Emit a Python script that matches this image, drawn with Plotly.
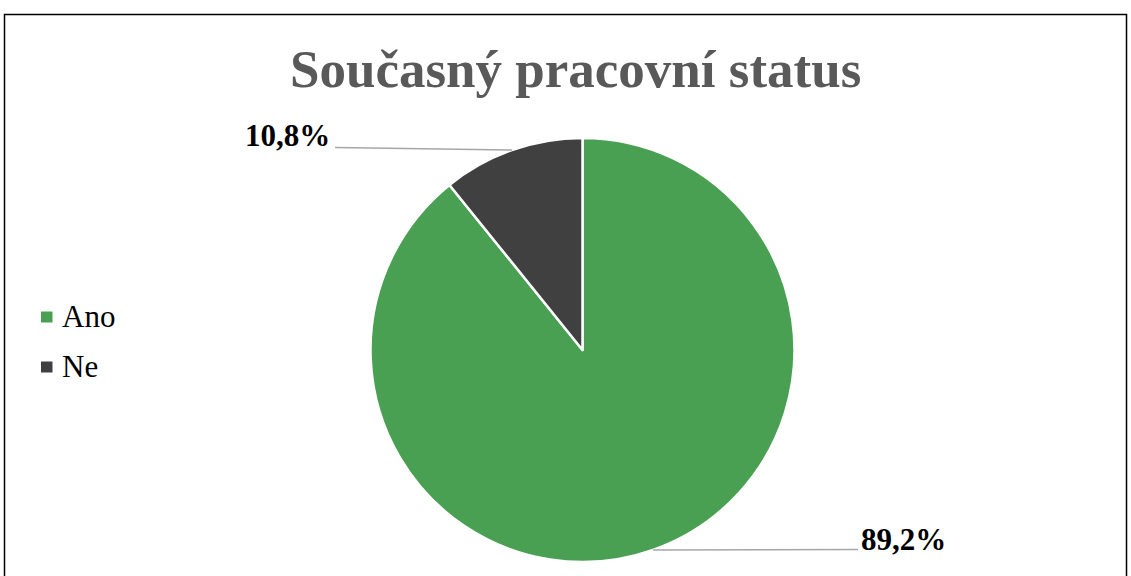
import math
import plotly.graph_objects as go

# ---- data ----
categories = ["Ano", "Ne"]
values = [89.2, 10.8]
value_labels = ["89,2%", "10,8%"]
colors = ["#4AA052", "#404040"]
title_text = "Současný pracovní status"

# ---- layout constants (pixels) ----
W, H = 1131, 576
CX, CY, R = 582.5, 350, 212
SERIF = "Liberation Serif, Times New Roman, serif"

def px(x):
    return x / W

def py(y):
    return 1 - y / H

fig = go.Figure()
fig.add_trace(go.Pie(
    labels=categories,
    values=values,
    sort=False,
    direction="clockwise",
    rotation=0,
    textinfo="none",
    hoverinfo="label+percent",
    marker=dict(colors=colors, line=dict(color="white", width=2.5)),
    domain=dict(x=[px(CX - R), px(CX + R)], y=[py(CY + R), py(CY - R)]),
    showlegend=False,
))

shapes = []
annotations = []

# frame
shapes.append(dict(type="rect", xref="paper", yref="paper",
                   x0=px(4.5), x1=px(1126.5), y0=-0.2, y1=py(14.5),
                   line=dict(color="black", width=1.5), fillcolor="rgba(0,0,0,0)", layer="below"))

# leader lines + labels computed from slice mid-angles
total = sum(values)
cum = 0.0
label_x = {"Ano": 858, "Ne": 335}
for cat, v, lab in zip(categories, values, value_labels):
    mid = (cum + v / 2) / total * 2 * math.pi  # clockwise from 12 o'clock
    cum += v
    ex = CX + R * math.sin(mid)
    ey = CY - R * math.cos(mid)
    lx = label_x[cat]
    left = lx < CX
    ly = ey - 2.5 if left else ey - 0.5
    shapes.append(dict(type="line", xref="paper", yref="paper",
                       x0=px(ex), y0=py(ey), x1=px(lx), y1=py(ly),
                       line=dict(color="#A6A6A6", width=1.5)))
    annotations.append(dict(
        xref="paper", yref="paper", x=px(lx + (1 if not left else -3)),
        y=py(ly - (12 if left else 10)),
        text="<b>%s</b>" % lab, showarrow=False,
        xanchor="right" if left else "left", yanchor="middle",
        font=dict(family=SERIF, size=31, color="black")))

# custom legend
leg_y = [317, 367]
for cat, col, yy in zip(categories, colors, leg_y):
    shapes.append(dict(type="rect", xref="paper", yref="paper",
                       x0=px(41), x1=px(52.5), y0=py(yy + 5.5), y1=py(yy - 5.5),
                       line=dict(width=0), fillcolor=col))
    annotations.append(dict(xref="paper", yref="paper", x=px(60), y=py(yy - 1),
                            text=cat, showarrow=False, xanchor="left", yanchor="middle",
                            font=dict(family=SERIF, size=31, color="black")))

fig.update_layout(
    width=W, height=H,
    margin=dict(l=0, r=0, t=0, b=0),
    paper_bgcolor="white",
    plot_bgcolor="white",
    title=dict(text="<b>%s</b>" % title_text, x=0.509, xanchor="center",
               y=py(68), yanchor="middle",
               font=dict(family=SERIF, size=53, color="#595959")),
    shapes=shapes,
    annotations=annotations,
)

fig.write_html("out.html")
